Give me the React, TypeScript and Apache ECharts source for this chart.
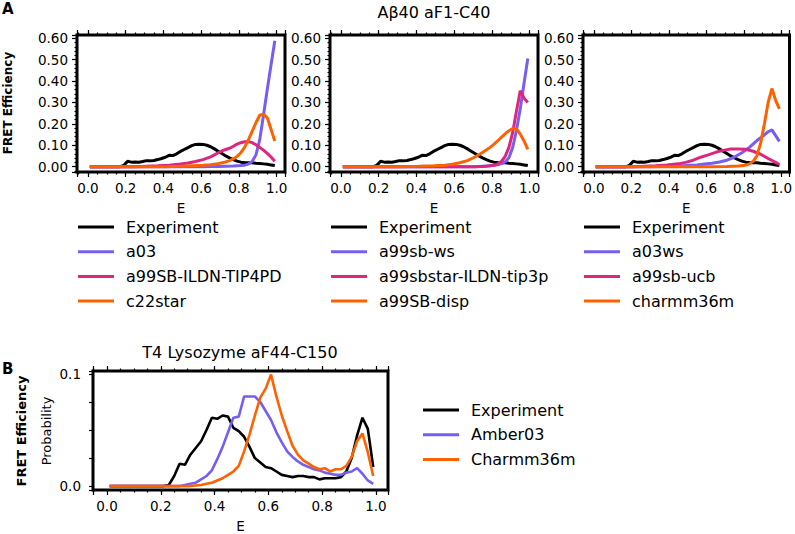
import React, { useEffect, useRef } from "react";
import * as echarts from "echarts";

// ---------------- DATA ----------------
// Panel A: Aβ40 aF1-C40  (x = E, y = FRET efficiency)
const expA: [number, number][] = [
  [0.01, 0], [0.05, 0], [0.09, 0], [0.13, 0], [0.17, 0], [0.19, 0.006], [0.21, 0.025], [0.23, 0.021],
  [0.25, 0.022], [0.27, 0.021], [0.29, 0.024], [0.31, 0.028], [0.33, 0.027], [0.35, 0.029], [0.37, 0.033],
  [0.39, 0.038], [0.41, 0.044], [0.43, 0.053], [0.45, 0.052], [0.47, 0.06], [0.49, 0.071], [0.51, 0.08],
  [0.53, 0.089], [0.55, 0.098], [0.57, 0.104], [0.59, 0.105], [0.61, 0.104], [0.63, 0.1], [0.65, 0.093],
  [0.67, 0.083], [0.69, 0.072], [0.71, 0.061], [0.73, 0.05], [0.75, 0.041], [0.77, 0.033], [0.79, 0.026],
  [0.81, 0.021], [0.83, 0.019], [0.85, 0.018], [0.87, 0.018], [0.89, 0.016], [0.91, 0.015], [0.93, 0.013],
  [0.95, 0.011], [0.97, 0.008], [0.99, 0.005],
];
const a03: [number, number][] = [
  [0.01, 0], [0.61, 0], [0.65, 0.001], [0.69, 0.001], [0.73, 0.002], [0.77, 0.003], [0.81, 0.005],
  [0.83, 0.007], [0.85, 0.012], [0.87, 0.024], [0.89, 0.055], [0.91, 0.125], [0.93, 0.24], [0.95, 0.36],
  [0.97, 0.475], [0.99, 0.588],
];
const a99SBILDNTIP4PD: [number, number][] = [
  [0.01, 0], [0.25, 0], [0.31, 0.002], [0.37, 0.004], [0.43, 0.007], [0.49, 0.012], [0.53, 0.017],
  [0.57, 0.024], [0.61, 0.033], [0.65, 0.046], [0.67, 0.055], [0.69, 0.065], [0.71, 0.074], [0.73, 0.08],
  [0.75, 0.086], [0.77, 0.095], [0.79, 0.105], [0.81, 0.112], [0.83, 0.116], [0.85, 0.117], [0.87, 0.112],
  [0.89, 0.102], [0.91, 0.09], [0.93, 0.077], [0.95, 0.062], [0.97, 0.045], [0.99, 0.025],
];
const c22star: [number, number][] = [
  [0.01, 0], [0.41, 0], [0.49, 0.002], [0.55, 0.004], [0.61, 0.006], [0.65, 0.009], [0.69, 0.014],
  [0.73, 0.022], [0.75, 0.028], [0.77, 0.036], [0.79, 0.048], [0.81, 0.065], [0.83, 0.09], [0.85, 0.125],
  [0.87, 0.165], [0.89, 0.205], [0.91, 0.24], [0.93, 0.245], [0.95, 0.228], [0.97, 0.175], [0.99, 0.12],
];
const a99sbWs: [number, number][] = [
  [0.01, 0], [0.71, 0], [0.75, 0.002], [0.79, 0.004], [0.81, 0.006], [0.83, 0.009], [0.85, 0.014],
  [0.87, 0.022], [0.89, 0.042], [0.91, 0.09], [0.93, 0.17], [0.95, 0.27], [0.97, 0.39], [0.99, 0.505],
];
const a99sbstarILDNtip3p: [number, number][] = [
  [0.01, 0], [0.71, 0], [0.77, 0.002], [0.81, 0.006], [0.83, 0.012], [0.85, 0.024], [0.87, 0.048],
  [0.89, 0.09], [0.91, 0.16], [0.93, 0.26], [0.95, 0.355], [0.97, 0.32], [0.99, 0.3],
];
const a99SBDisp: [number, number][] = [
  [0.01, 0], [0.31, 0], [0.41, 0.002], [0.49, 0.004], [0.55, 0.007], [0.59, 0.011], [0.63, 0.018],
  [0.67, 0.028], [0.71, 0.045], [0.75, 0.066], [0.79, 0.09], [0.81, 0.104], [0.83, 0.12], [0.85, 0.137],
  [0.87, 0.153], [0.89, 0.168], [0.91, 0.178], [0.93, 0.176], [0.95, 0.152], [0.97, 0.12], [0.99, 0.081],
];
const a03ws: [number, number][] = [
  [0.01, 0], [0.31, 0], [0.41, 0.002], [0.49, 0.005], [0.55, 0.008], [0.59, 0.012], [0.63, 0.016],
  [0.67, 0.022], [0.71, 0.03], [0.75, 0.045], [0.79, 0.065], [0.83, 0.09], [0.87, 0.122], [0.91, 0.148],
  [0.93, 0.163], [0.95, 0.172], [0.97, 0.145], [0.99, 0.118],
];
const a99sbUcb: [number, number][] = [
  [0.01, 0], [0.21, 0], [0.27, 0.002], [0.33, 0.004], [0.39, 0.008], [0.45, 0.013], [0.49, 0.02],
  [0.53, 0.03], [0.57, 0.044], [0.61, 0.055], [0.65, 0.067], [0.69, 0.076], [0.73, 0.082], [0.77, 0.083],
  [0.81, 0.081], [0.85, 0.072], [0.89, 0.058], [0.93, 0.038], [0.97, 0.02], [0.99, 0.01],
];
const charmm36m: [number, number][] = [
  [0.01, 0], [0.61, 0], [0.71, 0.001], [0.77, 0.003], [0.81, 0.007], [0.83, 0.013], [0.85, 0.025],
  [0.87, 0.05], [0.89, 0.11], [0.91, 0.2], [0.93, 0.3], [0.95, 0.365], [0.97, 0.31], [0.99, 0.27],
];

// Panel B: T4 Lysozyme aF44-C150 (x = E, y = probability)
const expB: [number, number][] = [
  [0.01, 0], [0.21, 0], [0.23, 0.001], [0.25, 0.009], [0.27, 0.02], [0.29, 0.019], [0.31, 0.028],
  [0.33, 0.034], [0.35, 0.04], [0.37, 0.05], [0.39, 0.061], [0.41, 0.06], [0.43, 0.063], [0.45, 0.062],
  [0.47, 0.052], [0.49, 0.049], [0.51, 0.044], [0.53, 0.035], [0.55, 0.025], [0.57, 0.021], [0.59, 0.017],
  [0.61, 0.016], [0.63, 0.013], [0.65, 0.01], [0.67, 0.009], [0.69, 0.008], [0.71, 0.009], [0.73, 0.009],
  [0.75, 0.008], [0.77, 0.008], [0.79, 0.006], [0.81, 0.007], [0.83, 0.007], [0.85, 0.007], [0.87, 0.008],
  [0.89, 0.013], [0.91, 0.025], [0.93, 0.045], [0.95, 0.061], [0.97, 0.051], [0.99, 0.017],
];
const amber03B: [number, number][] = [
  [0.01, 0], [0.27, 0], [0.29, 0.001], [0.31, 0.002], [0.33, 0.003], [0.35, 0.006], [0.37, 0.009],
  [0.39, 0.014], [0.41, 0.024], [0.43, 0.035], [0.45, 0.048], [0.47, 0.061], [0.49, 0.062], [0.51, 0.08],
  [0.53, 0.08], [0.55, 0.08], [0.57, 0.075], [0.59, 0.067], [0.61, 0.059], [0.63, 0.048], [0.65, 0.039],
  [0.67, 0.031], [0.69, 0.026], [0.71, 0.022], [0.73, 0.019], [0.75, 0.017], [0.77, 0.015], [0.79, 0.014],
  [0.81, 0.012], [0.83, 0.011], [0.85, 0.01], [0.87, 0.01], [0.89, 0.012], [0.91, 0.013], [0.93, 0.016],
  [0.95, 0.011], [0.97, 0.005], [0.99, 0.002],
];
const charmm36mB: [number, number][] = [
  [0.01, 0], [0.31, 0], [0.35, 0.001], [0.37, 0.002], [0.39, 0.003], [0.41, 0.005], [0.43, 0.007],
  [0.45, 0.01], [0.47, 0.013], [0.49, 0.018], [0.51, 0.031], [0.53, 0.046], [0.55, 0.063], [0.57, 0.079],
  [0.59, 0.087], [0.61, 0.0995], [0.63, 0.08], [0.65, 0.063], [0.67, 0.049], [0.69, 0.036], [0.71, 0.028],
  [0.73, 0.023], [0.75, 0.02], [0.77, 0.017], [0.79, 0.015], [0.81, 0.016], [0.83, 0.013], [0.85, 0.015],
  [0.87, 0.015], [0.89, 0.018], [0.91, 0.026], [0.93, 0.04], [0.95, 0.047], [0.97, 0.03], [0.99, 0.009],
];

const titleA = "Aβ40 aF1-C40";
const titleB = "T4 Lysozyme aF44-C150";
const legendA1 = ["Experiment", "a03", "a99SB-ILDN-TIP4PD", "c22star"];
const legendA2 = ["Experiment", "a99sb-ws", "a99sbstar-ILDN-tip3p", "a99SB-disp"];
const legendA3 = ["Experiment", "a03ws", "a99sb-ucb", "charmm36m"];
const legendB = ["Experiment", "Amber03", "Charmm36m"];
const yTicksB = ["0.0", "0.1"];

// ---------------- STYLE ----------------
const FONT = "DejaVu Sans";
const BLACK = "#000000";
const PURPLE = "#785EF0";
const PINK = "#DC267F";
const ORANGE = "#FE6100";
const TICK_FS = 13.5;

function isMult(v: number, step: number) {
  const r = v / step;
  return Math.abs(r - Math.round(r)) < 1e-6;
}

function buildOption() {
  const grids: any[] = [];
  const xAxes: any[] = [];
  const yAxes: any[] = [];
  const series: any[] = [];
  const tickStyle = { color: BLACK, width: 1.2 };
  const base = { type: "value", splitLine: { show: false }, axisLine: { show: false, onZero: false } };

  function addGrid(left: number, top: number, width: number, height: number) {
    grids.push({ left, top, width, height, show: true, borderColor: BLACK, borderWidth: 3, backgroundColor: "transparent", containLabel: false });
    return grids.length - 1;
  }
  function xTickAxes(g: number, min: number, max: number) {
    const main = xAxes.length;
    xAxes.push({
      ...base, gridIndex: g, min, max, position: "bottom", splitNumber: 5,
      axisTick: { show: true, length: 5, lineStyle: tickStyle },
      axisLabel: {
        color: BLACK, fontFamily: FONT, fontSize: TICK_FS, margin: 9,
        formatter: (v: number) => (isMult(v, 0.2) && v > -1e-9 && v < 1.0001 ? v.toFixed(1) : ""),
      },
      name: "E", nameLocation: "middle", nameGap: 29,
      nameTextStyle: { color: BLACK, fontFamily: FONT, fontSize: TICK_FS },
    });
    xAxes.push({ ...base, gridIndex: g, min, max, position: "bottom", splitNumber: 22, axisTick: { show: true, length: 2.5, lineStyle: tickStyle }, axisLabel: { show: false } });
    xAxes.push({ ...base, gridIndex: g, min, max, position: "top", splitNumber: 5, axisTick: { show: true, length: 5, lineStyle: tickStyle }, axisLabel: { show: false } });
    xAxes.push({ ...base, gridIndex: g, min, max, position: "top", splitNumber: 22, axisTick: { show: true, length: 2.5, lineStyle: tickStyle }, axisLabel: { show: false } });
    return main;
  }

  // ---- Panel A grids ----
  const aLefts = [77, 330, 583];
  const aX: [number, number] = [-0.058, 1.044];
  const aY: [number, number] = [-0.025, 0.615];
  const aSeries = [
    [["Experiment", expA, BLACK], ["a03", a03, PURPLE], ["a99SB-ILDN-TIP4PD", a99SBILDNTIP4PD, PINK], ["c22star", c22star, ORANGE]],
    [["Experiment", expA, BLACK], ["a99sb-ws", a99sbWs, PURPLE], ["a99sbstar-ILDN-tip3p", a99sbstarILDNtip3p, PINK], ["a99SB-disp", a99SBDisp, ORANGE]],
    [["Experiment", expA, BLACK], ["a03ws", a03ws, PURPLE], ["a99sb-ucb", a99sbUcb, PINK], ["charmm36m", charmm36m, ORANGE]],
  ];
  aLefts.forEach((left, i) => {
    const g = addGrid(left, 35, 208, 137);
    const xi = xTickAxes(g, aX[0], aX[1]);
    const yi = yAxes.length;
    yAxes.push({
      ...base, gridIndex: g, min: aY[0], max: aY[1], position: "left", splitNumber: 6,
      axisTick: { show: true, length: 5, lineStyle: tickStyle },
      axisLabel: { color: BLACK, fontFamily: FONT, fontSize: TICK_FS, margin: 9, formatter: (v: number) => (isMult(v, 0.1) && v > -1e-9 ? v.toFixed(2) : "") },
    });
    yAxes.push({ ...base, gridIndex: g, min: aY[0], max: aY[1], position: "left", splitNumber: 32, axisTick: { show: true, length: 2.5, lineStyle: tickStyle }, axisLabel: { show: false } });
    aSeries[i].forEach(([name, data, color]: any) => {
      series.push({ type: "line", name, data, xAxisIndex: xi, yAxisIndex: yi, symbol: "none", color, lineStyle: { color, width: 3 }, clip: true });
    });
  });

  // ---- Panel B grid ----
  const bX: [number, number] = [-0.052, 1.045];
  const bY: [number, number] = [-0.0035, 0.1027];
  const gB = addGrid(93, 371, 295, 120);
  const xiB = xTickAxes(gB, bX[0], bX[1]);
  const yiB = yAxes.length;
  yAxes.push({ ...base, gridIndex: gB, min: bY[0], max: bY[1], show: false });
  // tick axis expressed in quarter-tenths (0.025 steps -> integers)
  yAxes.push({
    ...base, gridIndex: gB, min: bY[0] * 40, max: bY[1] * 40, position: "left", splitNumber: 4,
    axisTick: { show: true, length: 4, lineStyle: tickStyle },
    axisLabel: {
      color: BLACK, fontFamily: FONT, fontSize: TICK_FS, margin: 12,
      formatter: (v: number) => (Math.abs(v) < 1e-6 ? yTicksB[0] : Math.abs(v - 4) < 1e-6 ? yTicksB[1] : ""),
    },
  });
  [["Experiment", expB, BLACK], ["Amber03", amber03B, PURPLE], ["Charmm36m", charmm36mB, ORANGE]].forEach(([name, data, color]: any) => {
    series.push({ type: "line", name, data, xAxisIndex: xiB, yAxisIndex: yiB, symbol: "none", color, lineStyle: { color, width: 2.6 }, clip: true });
  });

  const legendBase = {
    orient: "vertical", icon: "rect", itemWidth: 36, itemHeight: 3, itemGap: 4.7, padding: 0,
    selectedMode: false,
    textStyle: { color: BLACK, fontFamily: FONT, fontSize: 16, lineHeight: 20, padding: [0, 0, 0, 7] },
  };
  const legends = [
    { ...legendBase, left: 78, top: 217, data: legendA1 },
    { ...legendBase, left: 331, top: 217, data: legendA2 },
    { ...legendBase, left: 584, top: 217, data: legendA3 },
    { ...legendBase, left: 423, top: 400, data: legendB },
  ];

  const txt = (text: string, x: number, y: number, font: string, rotation = 0, align = "center") => ({
    type: "text", x, y, rotation, silent: true,
    style: { text, font, fill: BLACK, textAlign: align, align, textVerticalAlign: "middle", verticalAlign: "middle" },
  });

  const graphic = [
    txt("A", 2, 9, `bold 15px '${FONT}'`, 0, "left"),
    txt("B", 2, 369, `bold 15px '${FONT}'`, 0, "left"),
    txt(titleA, 434, 12, `16px '${FONT}'`),
    txt(titleB, 240, 352, `16px '${FONT}'`),
    txt("FRET Efficiency", 8, 103, `bold 12px '${FONT}'`, Math.PI / 2),
    txt("FRET Efficiency", 21, 431, `bold 13px '${FONT}'`, Math.PI / 2),
    txt("Probability", 46, 431, `13px '${FONT}'`, Math.PI / 2),
  ];

  return {
    animation: false,
    backgroundColor: "#ffffff",
    textStyle: { fontFamily: FONT },
    grid: grids,
    xAxis: xAxes,
    yAxis: yAxes,
    legend: legends,
    series,
    graphic,
  };
}

export default function App() {
  const ref = useRef<HTMLDivElement>(null);
  useEffect(() => {
    if (!ref.current) return;
    const chart = echarts.init(ref.current, undefined, { renderer: "svg" });
    chart.setOption(buildOption() as any);
    return () => chart.dispose();
  }, []);
  return <div ref={ref} style={{ position: "absolute", left: 0, top: 0, width: 795, height: 534 }} />;
}
